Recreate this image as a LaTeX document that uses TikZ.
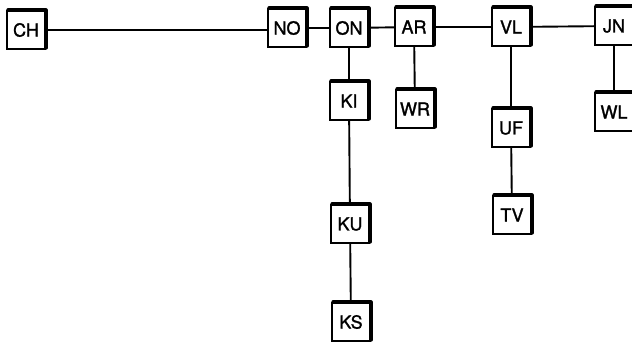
\documentclass[tikz,border=0pt]{standalone}
\usepackage{fontspec}
\setmainfont[FakeBold=1.4]{TeX Gyre Heros}
\begin{document}
\begin{tikzpicture}[x=1pt,y=-1pt,
  station/.style={draw=black,line width=1.8pt,fill=white,minimum width=38pt,minimum height=38pt,
    inner sep=0pt,font=\fontsize{18}{20}\selectfont},
  rim/.style={line width=3.6pt,line cap=round,line join=round},
  link/.style={line width=1.9pt}]
\useasboundingbox (0,0) rectangle (632,341);
% centres of the stations
\coordinate (cCH) at (26,30);
\coordinate (cNO) at (287,28);
\coordinate (cON) at (349,28);
\coordinate (cAR) at (414,27);
\coordinate (cVL) at (511,27);
\coordinate (cJN) at (614,26);
\coordinate (cKI) at (349,101);
\coordinate (cKU) at (350,224);
\coordinate (cKS) at (351,322);
\coordinate (cWR) at (415,109);
\coordinate (cUF) at (511,128);
\coordinate (cTV) at (512,215);
\coordinate (cWL) at (614,112);
% links first, boxes drawn on top
\draw[link] (cCH) -- (cNO |- cCH);
\draw[link] (cNO) -- (cON);
\draw[link] (cON) -- (cAR);
\draw[link] (cAR) -- (cVL);
\draw[link] (cVL) -- (cJN);
\draw[link] (cON) -- (cKI);
\draw[link] (cKI) -- (cKU);
\draw[link] (cKU) -- (cKS);
\draw[link] (cAR) -- (cWR);
\draw[link] (cVL) -- (cUF);
\draw[link] (cUF) -- (cTV);
\draw[link] (cJN) -- (cWL);
\foreach \n in {CH,NO,ON,AR,VL,JN,KI,KU,KS,WR,UF,TV,WL}{
  \node[station] (\n) at (c\n) {\n};
  % heavier top and right edges of each box
  \draw[rim] ([xshift=2pt]\n.north west) -- (\n.north east) -- ([yshift=2pt]\n.south east);
}
\end{tikzpicture}
\end{document}
